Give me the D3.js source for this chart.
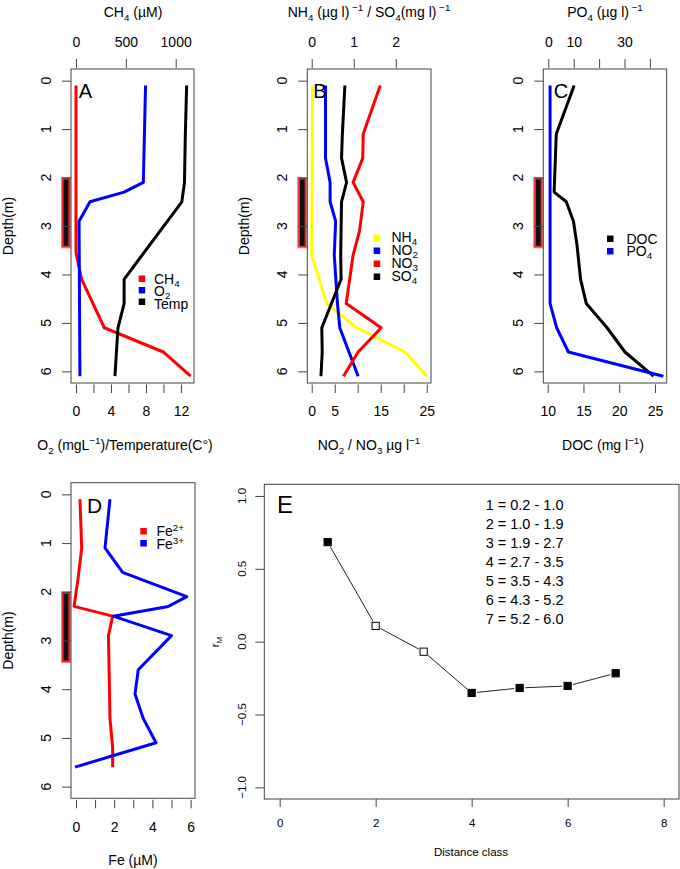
<!DOCTYPE html>
<html>
<head>
<meta charset="utf-8">
<script src="https://cdn.jsdelivr.net/npm/d3@7"></script>
<style>
  html, body { margin: 0; padding: 0; background: #fff; }
  svg { display: block; font-family: "Liberation Sans", Arial, Helvetica, sans-serif; }
</style>
</head>
<body>
<svg id="chart" width="680" height="869"></svg>
<script>
// ---------------- DATA ----------------
// Panel A
const ch4Depth  = [0.1, 3.55, 4.1, 5.1, 5.6, 6.1];
const ch4       = [0, 0, 57, 284, 876, 1150];
const o2Depth   = [0.1, 2.1, 2.3, 2.5, 2.9, 6.1];
const o2        = [7.95, 7.7, 5.5, 1.6, 0.35, 0.45];
const tempDepth = [0.1, 1.1, 2.1, 2.5, 4.1, 4.6, 5.1, 6.1];
const temp      = [12.65, 12.5, 12.4, 12.1, 5.5, 5.5, 4.8, 4.45];
// Panel B
const nh4Depth  = [0.1, 3.6, 4.6, 5.1, 5.6, 6.1];
const nh4       = [0.02, 0.0, 0.36, 1.07, 2.22, 2.74];
const no2Depth  = [0.1, 1.6, 2.1, 2.5, 2.9, 3.6, 4.6, 5.1, 6.1];
const no2       = [3.0, 3.0, 4.0, 4.0, 5.2, 4.9, 5.6, 6.1, 10.1];
const no3Depth  = [0.1, 1.1, 1.6, 2.1, 2.5, 3.1, 3.6, 4.6, 5.1, 5.6, 6.1];
const no3       = [14.9, 11.2, 11.1, 9.0, 11.2, 10.4, 9.0, 7.5, 15.1, 10.1, 6.9];
const so4Depth  = [0.1, 1.1, 1.6, 2.1, 2.5, 3.6, 4.1, 5.1, 5.6, 6.1];
const so4       = [0.79, 0.73, 0.71, 0.83, 0.71, 0.69, 0.70, 0.24, 0.25, 0.22];
// Panel C
const docDepth  = [0.1, 1.1, 2.3, 2.5, 2.9, 3.4, 4.1, 4.6, 5.1, 5.6, 6.1];
const doc       = [13.7, 11.2, 10.9, 12.6, 13.6, 14.1, 14.6, 15.4, 18.3, 20.8, 24.8];
const po4Depth  = [0.1, 4.6, 5.1, 5.6, 6.1];
const po4       = [0.7, 0.7, 3.3, 7.9, 45.3];
// Panel D
const fe2Depth  = [0.1, 1.1, 1.7, 2.3, 2.5, 2.9, 4.6, 5.2, 5.6];
const fe2       = [0.21, 0.3, 0.12, -0.1, 1.92, 1.7, 1.78, 1.92, 1.92];
const fe3Depth  = [0.1, 1.1, 1.6, 2.1, 2.3, 2.5, 2.9, 3.6, 4.1, 4.6, 5.1, 5.6];
const fe3       = [1.78, 1.52, 2.44, 5.8, 4.83, 1.95, 5.0, 3.26, 3.09, 3.52, 4.19, -0.05];
// Highlighted depth zone (bar left of depth axes)
const zoneDepth = [2.0, 3.45];
// Panel E
const distClass   = [1, 2, 3, 4, 5, 6, 7];
const rM          = [0.683, 0.108, -0.069, -0.352, -0.318, -0.304, -0.217];
const significant = [true, false, false, true, true, true, true];
const classRanges = ["1 = 0.2 - 1.0", "2 = 1.0 - 1.9", "3 = 1.9 - 2.7", "4 = 2.7 - 3.5",
                     "5 = 3.5 - 4.3", "6 = 4.3 - 5.2", "7 = 5.2 - 6.0"];
// Ticks
const depthTicks = [0, 1, 2, 3, 4, 5, 6];
const ch4Ticks = [0, 500, 1000];
const o2Ticks = [0, 2, 4, 6, 8, 10, 12], o2Labels = [0, 4, 8, 12];
const nh4Ticks = [0, 1, 2];
const noTicks = [0, 5, 10, 15, 20, 25], noLabels = [0, 5, 15, 25];
const po4Ticks = [0, 10, 20, 30, 40], po4Labels = [0, 10, 30];
const docTicks = [10, 15, 20, 25];
const feTicks = [0, 1, 2, 3, 4, 5, 6], feLabels = [0, 2, 4, 6];
const eXTicks = [0, 2, 4, 6, 8];
const eYTicks = [-1, -0.5, 0, 0.5, 1];

// ---------------- DRAWING ----------------
const svg = d3.select("#chart");
const AX = "#444";
const FS = 14;

function zip(ds, vs) { return ds.map((d, i) => [vs[i], d]); }

function richText(g, x, y, segs, fs, opts = {}) {
  const t = g.append("text").attr("x", x).attr("y", y)
    .attr("font-size", fs).attr("text-anchor", opts.anchor || "middle").attr("fill", "#000");
  if (opts.rotate) t.attr("transform", `rotate(-90,${x},${y})`);
  let shift = 0;
  const subK = opts.subK !== undefined ? opts.subK : 0.3;
  const supK = opts.supK !== undefined ? opts.supK : 0.45;
  segs.forEach(s => {
    let target = 0, size = fs;
    if (s.sub) { target = fs * subK; size = fs * 0.7; }
    if (s.sup) { target = -fs * supK; size = fs * 0.7; }
    t.append("tspan").attr("dy", target - shift).attr("font-size", size).text(s.t);
    shift = target;
  });
  return t;
}

function styleAxis(g) {
  g.select(".domain").remove();
  g.selectAll(".tick line").attr("stroke", AX);
  g.attr("font-family", null).attr("font-size", FS);
  g.selectAll("text").attr("fill", "#000");
}

function depthPanel(cfg) {
  const { x0, x1, y0, y1, yScale } = cfg;
  const g = svg.append("g");
  // zone bar
  const zy0 = yScale(zoneDepth[0]), zy1 = yScale(zoneDepth[1]);
  g.append("rect").attr("x", x0 - 9.5).attr("y", zy0).attr("width", 9).attr("height", zy1 - zy0)
    .attr("fill", "#e8262b").attr("stroke", "#f07a7a").attr("stroke-width", 1);
  g.append("rect").attr("x", x0 - 7.3).attr("y", zy0 + 2).attr("width", 4.6).attr("height", zy1 - zy0 - 4)
    .attr("fill", "#111");
  // left axis
  const la = g.append("g").attr("transform", `translate(${x0},0)`)
    .call(d3.axisLeft(yScale).tickValues(depthTicks).tickSize(9).tickFormat(""));
  styleAxis(la);
  depthTicks.forEach(d => {
    g.append("text").attr("x", x0 - 25).attr("y", yScale(d)).attr("dy", "0.36em")
      .attr("font-size", FS).attr("text-anchor", "middle")
      .attr("transform", `rotate(-90,${x0 - 25},${yScale(d)})`).text(d);
  });
  if (cfg.depthLabel) {
    const cy = (y0 + y1) / 2;
    g.append("text").attr("x", x0 - 63).attr("y", cy).attr("dy", "0.36em")
      .attr("font-size", FS).attr("text-anchor", "middle")
      .attr("transform", `rotate(-90,${x0 - 63},${cy})`).text("Depth(m)");
  }
  // top axis
  if (cfg.topScale) {
    const ta = g.append("g").attr("transform", `translate(0,${y0 - 1})`)
      .call(d3.axisTop(cfg.topScale).tickValues(cfg.topTicks).tickSize(9).tickPadding(12.5)
        .tickFormat(d => cfg.topLabels.includes(d) ? d : ""));
    styleAxis(ta);
    richText(g, cfg.topTitleX, y0 - 52, cfg.topTitle, FS);
  }
  // bottom axis
  const ba = g.append("g").attr("transform", `translate(0,${y1 + 1.5})`)
    .call(d3.axisBottom(cfg.botScale).tickValues(cfg.botTicks).tickSize(8.5).tickPadding(13.5)
      .tickFormat(d => cfg.botLabels.includes(d) ? d : ""));
  styleAxis(ba);
  richText(g, cfg.botTitleX, y1 + 67, cfg.botTitle, FS);
  // lines
  const line = d3.line().x(d => d[2](d[0])).y(d => yScale(d[1]));
  cfg.series.forEach(s => {
    const pts = zip(s.depth, s.vals).map(p => [p[0], p[1], s.scale]);
    g.append("path").attr("d", line(pts)).attr("fill", "none").attr("stroke", s.color)
      .attr("stroke-width", 3).attr("stroke-linejoin", "round").attr("stroke-linecap", "butt");
  });
  // box
  g.append("rect").attr("x", x0).attr("y", y0).attr("width", x1 - x0).attr("height", y1 - y0)
    .attr("fill", "none").attr("stroke", AX).attr("stroke-width", 1);
  // legend
  cfg.legend.items.forEach((it, i) => {
    const ys = cfg.legend.sq[i], yt = cfg.legend.ty[i];
    g.append("rect").attr("x", cfg.legend.sx - 3).attr("y", ys - 3).attr("width", 6.5).attr("height", 6.5)
      .attr("fill", it.color);
    richText(g, cfg.legend.tx, yt + 5, it.label, FS, { anchor: "start", subK: 0.22, supK: 0.38 });
  });
  // panel letter
  g.append("text").attr("x", cfg.letter.x).attr("y", cfg.letter.y).attr("font-size", cfg.letter.fs)
    .attr("text-anchor", "middle").text(cfg.letter.t);
}

// ---- scales ----
const yABC = d3.scaleLinear().domain([-0.24, 6.24]).range([69, 383]);
const yD   = d3.scaleLinear().domain([-0.24, 6.24]).range([482.7, 798.3]);

const xCH4 = d3.scaleLinear().domain([-50, 1184]).range([71, 194]);
const xO2  = d3.scaleLinear().domain([-0.57, 13.49]).range([71, 194]);
const xNH4 = d3.scaleLinear().domain([-0.105, 2.84]).range([307.3, 431]);
const xNO  = d3.scaleLinear().domain([-0.96, 25.93]).range([307.3, 431]);
const xPO4 = d3.scaleLinear().domain([-1.97, 46.6]).range([543.3, 666.7]);
const xDOC = d3.scaleLinear().domain([9.385, 26.64]).range([543.3, 666.7]);
const xFe  = d3.scaleLinear().domain([-0.26, 6.23]).range([71, 195]);

// Panel A
depthPanel({
  x0: 71, x1: 194, y0: 69, y1: 383, yScale: yABC, depthLabel: true,
  topScale: xCH4, topTicks: ch4Ticks, topLabels: ch4Ticks, topTitleX: 133,
  topTitle: [{ t: "CH" }, { t: "4", sub: true }, { t: " (µM)" }],
  botScale: xO2, botTicks: o2Ticks, botLabels: o2Labels, botTitleX: 125,
  botTitle: [{ t: "O" }, { t: "2", sub: true }, { t: " (mgL" }, { t: "−1", sup: true }, { t: ")/Temperature(C°)" }],
  series: [
    { depth: ch4Depth, vals: ch4, scale: xCH4, color: "#ff0000" },
    { depth: o2Depth, vals: o2, scale: xO2, color: "#0000ff" },
    { depth: tempDepth, vals: temp, scale: xO2, color: "#000000" }
  ],
  legend: {
    sx: 141.7, tx: 154, sq: [278.5, 290, 301.5], ty: [278.5, 291, 304],
    items: [
      { color: "#ff0000", label: [{ t: "CH" }, { t: "4", sub: true }] },
      { color: "#0000ff", label: [{ t: "O" }, { t: "2", sub: true }] },
      { color: "#000000", label: [{ t: "Temp" }] }
    ]
  },
  letter: { t: "A", x: 85.5, y: 98.3, fs: 20 }
});

// Panel B
depthPanel({
  x0: 307.3, x1: 431, y0: 69, y1: 383, yScale: yABC, depthLabel: true,
  topScale: xNH4, topTicks: nh4Ticks, topLabels: nh4Ticks, topTitleX: 369,
  topTitle: [{ t: "NH" }, { t: "4", sub: true }, { t: " (µg l)" }, { t: " −1", sup: true }, { t: " / SO" },
             { t: "4", sub: true }, { t: "(mg l)" }, { t: " −1", sup: true }],
  botScale: xNO, botTicks: noTicks, botLabels: noLabels, botTitleX: 369,
  botTitle: [{ t: "NO" }, { t: "2", sub: true }, { t: " / NO" }, { t: "3", sub: true }, { t: " µg l" }, { t: "−1", sup: true }],
  series: [
    { depth: nh4Depth, vals: nh4, scale: xNH4, color: "#ffff00" },
    { depth: no2Depth, vals: no2, scale: xNO, color: "#0000ff" },
    { depth: no3Depth, vals: no3, scale: xNO, color: "#ff0000" },
    { depth: so4Depth, vals: so4, scale: xNH4, color: "#000000" }
  ],
  legend: {
    sx: 376.7, tx: 391.5, sq: [237.5, 250.5, 263.5, 276.5], ty: [236.5, 249.5, 262.5, 275.5],
    items: [
      { color: "#ffff00", label: [{ t: "NH" }, { t: "4", sub: true }] },
      { color: "#0000ff", label: [{ t: "NO" }, { t: "2", sub: true }] },
      { color: "#ff0000", label: [{ t: "NO" }, { t: "3", sub: true }] },
      { color: "#000000", label: [{ t: "SO" }, { t: "4", sub: true }] }
    ]
  },
  letter: { t: "B", x: 320, y: 98.3, fs: 20 }
});

// Panel C
depthPanel({
  x0: 543.3, x1: 666.7, y0: 69, y1: 383, yScale: yABC, depthLabel: false,
  topScale: xPO4, topTicks: po4Ticks, topLabels: po4Labels, topTitleX: 605,
  topTitle: [{ t: "PO" }, { t: "4", sub: true }, { t: " (µg l)" }, { t: " −1", sup: true }],
  botScale: xDOC, botTicks: docTicks, botLabels: docTicks, botTitleX: 603,
  botTitle: [{ t: "DOC (mg l" }, { t: "−1", sup: true }, { t: ")" }],
  series: [
    { depth: docDepth, vals: doc, scale: xDOC, color: "#000000" },
    { depth: po4Depth, vals: po4, scale: xPO4, color: "#0000ff" }
  ],
  legend: {
    sx: 610, tx: 626.5, sq: [238.5, 251], ty: [238.5, 251],
    items: [
      { color: "#000000", label: [{ t: "DOC" }] },
      { color: "#0000ff", label: [{ t: "PO" }, { t: "4", sub: true }] }
    ]
  },
  letter: { t: "C", x: 561, y: 98.3, fs: 20 }
});

// Panel D
depthPanel({
  x0: 71, x1: 195, y0: 482.7, y1: 798.3, yScale: yD, depthLabel: true,
  topScale: null,
  botScale: xFe, botTicks: feTicks, botLabels: feLabels, botTitleX: 133,
  botTitle: [{ t: "Fe (µM)" }],
  series: [
    { depth: fe2Depth, vals: fe2, scale: xFe, color: "#ff0000" },
    { depth: fe3Depth, vals: fe3, scale: xFe, color: "#0000ff" }
  ],
  legend: {
    sx: 143.3, tx: 156.5, sq: [531, 543], ty: [531, 544],
    items: [
      { color: "#ff0000", label: [{ t: "Fe" }, { t: "2+", sup: true }] },
      { color: "#0000ff", label: [{ t: "Fe" }, { t: "3+", sup: true }] }
    ]
  },
  letter: { t: "D", x: 94.5, y: 512.7, fs: 21 }
});

// Panel E
(function () {
  const x0 = 264.3, x1 = 679, y0 = 484.3, y1 = 799;
  const xE = d3.scaleLinear().domain([-0.32, 8.32]).range([x0, x1]);
  const yE = d3.scaleLinear().domain([-1.08, 1.08]).range([y1, y0]);
  const g = svg.append("g");
  const efs = 11.5;
  const ba = g.append("g").attr("transform", `translate(0,${y1})`)
    .call(d3.axisBottom(xE).tickValues(eXTicks).tickSize(8).tickPadding(12).tickFormat(d3.format("d")));
  styleAxis(ba); ba.attr("font-size", efs);
  const la = g.append("g").attr("transform", `translate(${x0},0)`)
    .call(d3.axisLeft(yE).tickValues(eYTicks).tickSize(9).tickFormat(""));
  styleAxis(la);
  eYTicks.forEach(v => {
    const yy = yE(v), xx = x0 - 22.5;
    g.append("text").attr("x", xx).attr("y", yy).attr("dy", "0.36em").attr("font-size", efs)
      .attr("text-anchor", "middle").attr("transform", `rotate(-90,${xx},${yy})`).text(d3.format(".1f")(v));
  });
  richText(g, 471, 856, [{ t: "Distance class" }], efs);
  richText(g, 219, 642, [{ t: "r" }, { t: "M", sub: true }], efs, { rotate: true });
  // connecting segments (type "b" with gaps)
  const pts = distClass.map((c, i) => [xE(c), yE(rM[i])]);
  const gap = 5.5;
  for (let i = 0; i < pts.length - 1; i++) {
    const [ax, ay] = pts[i], [bx, by] = pts[i + 1];
    const dx = bx - ax, dy = by - ay, L = Math.hypot(dx, dy);
    if (L <= 2 * gap) continue;
    const ux = dx / L, uy = dy / L;
    g.append("line").attr("x1", ax + ux * gap).attr("y1", ay + uy * gap)
      .attr("x2", bx - ux * gap).attr("y2", by - uy * gap).attr("stroke", "#222").attr("stroke-width", 1);
  }
  g.selectAll(".pt").data(distClass).enter().append("rect")
    .attr("x", (c) => xE(c) - 3.6).attr("y", (c, i) => yE(rM[i]) - 3.6)
    .attr("width", 7.2).attr("height", 7.2)
    .attr("fill", (c, i) => significant[i] ? "#000" : "#fff")
    .attr("stroke", "#000").attr("stroke-width", 1);
  classRanges.forEach((s, i) => {
    g.append("text").attr("x", 485.7).attr("y", 505 + i * 18.9).attr("dy", "0.36em")
      .attr("font-size", 14.5).text(s);
  });
  g.append("rect").attr("x", x0).attr("y", y0).attr("width", x1 - x0).attr("height", y1 - y0)
    .attr("fill", "none").attr("stroke", AX).attr("stroke-width", 1);
  g.append("text").attr("x", 285).attr("y", 513.3).attr("font-size", 24).attr("text-anchor", "middle").text("E");
})();
</script>
</body>
</html>
